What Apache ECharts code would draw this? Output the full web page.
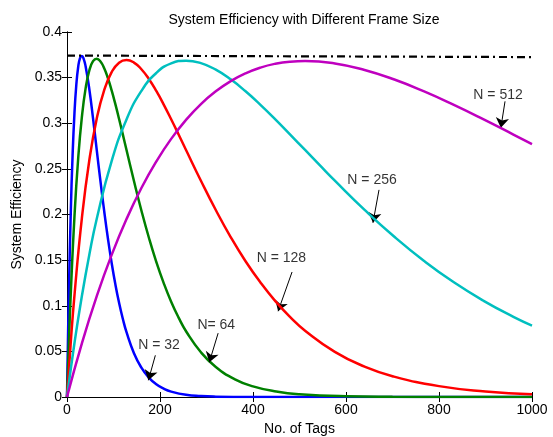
<!DOCTYPE html>
<html>
<head>
<meta charset="utf-8">
<script src="https://cdn.jsdelivr.net/npm/echarts@6/dist/echarts.min.js"></script>
<style>
  html, body { margin: 0; padding: 0; background: #fff; }
  #chart { width: 553px; height: 437px; }
</style>
</head>
<body>
<div id="chart"></div>
<script>
// values
const tags32 = [0, 2, 4, 8, 12, 16, 20, 24, 28, 32, 36, 40, 48, 56, 64, 72, 80, 88, 96, 104, 112, 120, 128, 144, 160, 176, 192, 208, 224, 256, 288, 320, 400, 500, 600, 800, 1000]
const eff32 = [0, 0.0606, 0.1136, 0.2002, 0.2645, 0.3106, 0.3419, 0.3614, 0.3713, 0.3737, 0.3703, 0.3624, 0.3373, 0.3053, 0.2706, 0.2362, 0.2036, 0.1737, 0.1470, 0.1235, 0.1032, 0.0858, 0.0710, 0.0480, 0.0321, 0.0213, 0.0140, 0.0091, 0.0059, 0.0024, 0.0010, 0.0004, 0.00004, 0, 0, 0, 0]

const tags64 = [0, 4, 8, 16, 24, 32, 40, 48, 56, 64, 72, 80, 88, 96, 104, 112, 120, 128, 144, 160, 176, 192, 208, 224, 240, 256, 288, 320, 360, 400, 450, 500, 600, 700, 800, 1000]
const eff64 = [0, 0.0596, 0.1120, 0.1974, 0.2611, 0.3069, 0.3382, 0.3578, 0.3680, 0.3708, 0.3677, 0.3603, 0.3494, 0.3360, 0.3209, 0.3047, 0.2878, 0.2707, 0.2367, 0.2044, 0.1748, 0.1482, 0.1248, 0.1044, 0.0870, 0.0721, 0.0490, 0.0329, 0.0197, 0.0117, 0.0060, 0.0030, 0.0008, 0.0002, 0.00004, 0]

const tags128 = [0, 8, 16, 32, 48, 64, 80, 96, 112, 128, 144, 160, 176, 192, 208, 224, 240, 256, 288, 320, 352, 384, 416, 448, 480, 512, 576, 640, 700, 800, 900, 1000]
const eff128 = [0, 0.0592, 0.1111, 0.1960, 0.2594, 0.3051, 0.3363, 0.3560, 0.3664, 0.3693, 0.3665, 0.3592, 0.3485, 0.3354, 0.3205, 0.3044, 0.2877, 0.2707, 0.2370, 0.2049, 0.1753, 0.1488, 0.1255, 0.1051, 0.0876, 0.0727, 0.0495, 0.0333, 0.0228, 0.0119, 0.0061, 0.0031]

const tags256 = [0, 16, 32, 48, 64, 96, 128, 160, 192, 224, 256, 288, 320, 352, 384, 416, 448, 480, 512, 544, 576, 640, 704, 768, 832, 896, 960, 1000]
const eff256 = [0, 0.0589, 0.1107, 0.1560, 0.1954, 0.2586, 0.3042, 0.3354, 0.3551, 0.3656, 0.3686, 0.3659, 0.3587, 0.3481, 0.3350, 0.3202, 0.3043, 0.2876, 0.2707, 0.2538, 0.2371, 0.2051, 0.1756, 0.1491, 0.1257, 0.1054, 0.0879, 0.0783]

const tags512 = [0, 32, 64, 96, 128, 160, 192, 224, 256, 288, 320, 352, 384, 416, 448, 480, 512, 576, 640, 704, 768, 832, 896, 960, 1000]
const eff512 = [0, 0.0588, 0.1105, 0.1557, 0.1950, 0.2290, 0.2581, 0.2829, 0.3037, 0.3210, 0.3350, 0.3461, 0.3547, 0.3610, 0.3652, 0.3675, 0.3682, 0.3656, 0.3584, 0.3479, 0.3349, 0.3201, 0.3042, 0.2876, 0.2771]

// dash-dot reference line
const maxTags = [0, 1000]
const maxEff = [0.3742, 0.3725]

const frameNames = ['N = 32', 'N= 64', 'N = 128', 'N = 256', 'N = 512']
const lineColors = ['#0000ff', '#008000', '#ff0000', '#00bfbf', '#bf00bf']

// annotation text position, arrow tail, arrow tip (data units)
const labelPos = [[198, 0.0567], [321, 0.0785], [461, 0.152], [656, 0.238], [927, 0.331]]
const arrowTail = [[190, 0.0457], [325, 0.070], [484, 0.137], [671, 0.227], [942, 0.324]]
const arrowTip = [[175, 0.0183], [306, 0.038], [454, 0.094], [658, 0.191], [933, 0.295]]

function zip(xs, ys) {
  return xs.map((x, i) => [x, ys[i]])
}

const curves = [
  zip(tags32, eff32),
  zip(tags64, eff64),
  zip(tags128, eff128),
  zip(tags256, eff256),
  zip(tags512, eff512)
]

const font = 'Liberation Sans, Arial, Helvetica, sans-serif'

let series = curves.map((d, i) => ({
  type: 'line',
  name: frameNames[i],
  data: d,
  smooth: 0.5,
  showSymbol: false,
  symbol: 'none',
  lineStyle: { color: lineColors[i], width: 2.5 },
  z: 3 + i
}))

series.push({
  type: 'line',
  data: zip(maxTags, maxEff),
  symbol: 'none',
  lineStyle: { color: '#000', width: 2.2, type: [8, 4, 2, 4] },
  z: 10
})

series.push({
  type: 'scatter',
  data: labelPos.map((p, i) => [p[0], p[1], frameNames[i]]),
  symbolSize: 1,
  itemStyle: { color: 'rgba(0,0,0,0)' },
  label: {
    show: true,
    position: 'inside',
    formatter: (p) => p.data[2],
    color: '#000',
    fontSize: 14,
    fontFamily: font
  },
  markLine: {
    silent: true,
    symbol: ['none', 'arrow'],
    symbolSize: 10,
    label: { show: false },
    lineStyle: { color: '#000', width: 1, type: 'solid' },
    data: arrowTail.map((t, i) => [{ coord: t }, { coord: arrowTip[i] }])
  },
  z: 12
})

let chart = echarts.init(document.getElementById('chart'))
let axisText = { color: '#000', fontSize: 14, fontFamily: font }
chart.setOption({
  animation: false,
  title: {
    text: 'System Efficiency with Different Frame Size',
    left: 299,
    textAlign: 'center',
    top: 8,
    textStyle: { color: '#000', fontSize: 14, fontWeight: 'normal', fontFamily: font }
  },
  grid: { left: 67, right: 21, top: 32, bottom: 40, outerBoundsMode: 'none', containLabel: false },
  xAxis: [
    {
      type: 'value', min: 0, max: 1000, interval: 200,
      name: 'No. of Tags', nameLocation: 'middle', nameGap: 22,
      nameTextStyle: axisText,
      axisLine: { lineStyle: { color: '#000', width: 1 } },
      axisTick: { inside: true, length: 5, lineStyle: { color: '#000' } },
      axisLabel: Object.assign({ margin: 6, formatter: (v) => String(v) }, axisText),
      splitLine: { show: false }
    },
    {
      type: 'value', min: 0, max: 1000, interval: 200, position: 'top',
      axisLine: { show: true, lineStyle: { color: '#000', width: 1 } },
      axisTick: { inside: true, length: 5, lineStyle: { color: '#000' } },
      axisLabel: { show: false },
      splitLine: { show: false }
    }
  ],
  yAxis: [
    {
      type: 'value', min: 0, max: 0.4, interval: 0.05,
      name: 'System Efficiency', nameLocation: 'middle', nameGap: 40,
      nameTextStyle: axisText,
      axisLine: { show: true, lineStyle: { color: '#000', width: 1 } },
      axisTick: { show: true, inside: true, length: 5, lineStyle: { color: '#000' } },
      axisLabel: Object.assign({ margin: 5 }, axisText),
      splitLine: { show: false }
    },
    {
      type: 'value', min: 0, max: 0.4, interval: 0.05, position: 'right',
      axisLine: { show: true, lineStyle: { color: '#000', width: 1 } },
      axisTick: { show: true, inside: true, length: 5, lineStyle: { color: '#000' } },
      axisLabel: { show: false },
      splitLine: { show: false }
    }
  ],
  series: series
})
</script>
</body>
</html>
